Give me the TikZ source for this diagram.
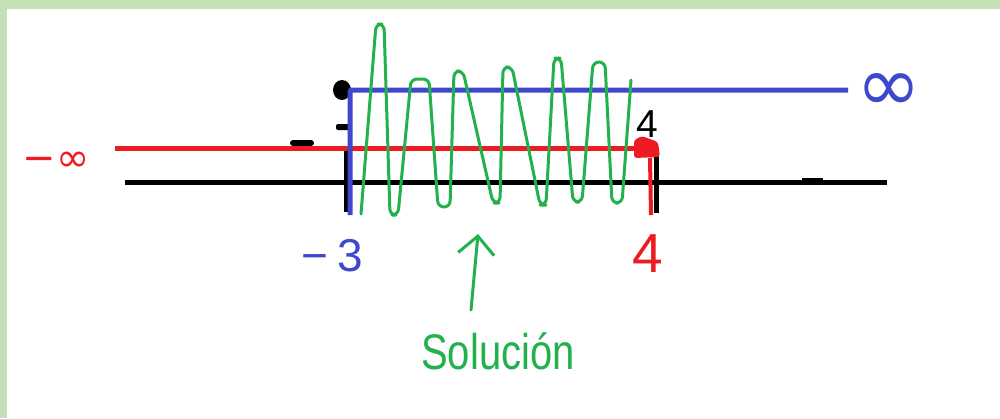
\documentclass[tikz,border=0pt]{standalone}
\usepackage{fontspec}
\usepackage{graphicx}
\setmainfont{Liberation Sans}
\newfontfamily\symfont{DejaVu Sans}
\usetikzlibrary{arrows.meta}
\definecolor{pred}{HTML}{ED1C24}
\definecolor{pblue}{HTML}{3F48CC}
\definecolor{pgreen}{HTML}{22B14C}
\definecolor{frame}{HTML}{C5E0B4}
\tikzset{
  axisline/.style={line width=5pt, black},
  tickline/.style={line width=5pt, black},
  redline/.style={line width=5pt, pred},
  blueline/.style={line width=5pt, pblue, rounded corners=2pt},
  zig/.style={line width=3pt, pgreen, rounded corners=6pt, line join=round, line cap=round},
  solarrow/.style={line width=3pt, pgreen, line cap=round, -{Straight Barb[length=18pt,width=36pt,line width=3pt]}},
  lbl/.style={inner sep=0pt, outer sep=0pt},
  blackmark/.style={fill=black}
}
\begin{document}
\begin{tikzpicture}[x=1pt,y=-1pt]
\path[use as bounding box, fill=white] (0,0) rectangle (1000,418);
\fill[frame] (0,0) rectangle (1000,8.5);
\fill[frame] (0,0) rectangle (7,418);

% coordinates
\coordinate (axL) at (125,182);
\coordinate (axR) at (887,182);
\coordinate (tA1) at (346,148);
\coordinate (tA2) at (346,212);
\coordinate (tB1) at (656,152);
\coordinate (tB2) at (656,213);
\coordinate (rL) at (115,148);
\coordinate (rR) at (640,148);
\coordinate (rD1) at (650,158);
\coordinate (rD2) at (651,215);
\coordinate (b0) at (350,215);
\coordinate (bC) at (350,90);
\coordinate (bE) at (848,90);
\coordinate (arrbase) at (471,310);
\coordinate (arrtip) at (478,234);

% labels
\node[lbl, text=pred, font=\symfont\fontsize{40}{40}\selectfont] (minf) at (56,162) {−∞};
\node[lbl, text=pblue, font=\symfont\fontsize{78}{78}\selectfont] (inf) at (889,93) {∞};
\node[lbl, text=black, font=\fontsize{39}{39}\selectfont, anchor=base] (lbl4k) at (647,137) {4};
\node[lbl, text=pred, font=\fontsize{55}{55}\selectfont, anchor=base] (lbl4r) at (648,272) {4};
\node[lbl, text=pblue, font=\fontsize{46}{46}\selectfont, anchor=base] (lbl3) at (332,271) {−\hspace{9pt}3};
\node[lbl, text=pgreen, font=\fontsize{50}{50}\selectfont, anchor=base] (sol) at (498,369) {\scalebox{0.8}[1]{Solución}};

% axis and ticks
\draw[axisline] (axL) -- (axR);
\draw[line width=6pt] (802,180.5) -- (823,180.5);
\draw[tickline] (tA1) -- (tA2);
\draw[tickline] (tB1) -- (tB2);

% small black marks
\fill[blackmark] (342,90) ellipse (9pt and 10pt);
\fill[blackmark, rounded corners=2pt] (336,124) rectangle (352,130);
\fill[blackmark, rounded corners=3pt] (290,146) rectangle (314,140);

% red interval
\draw[redline] (rL) -- (rR);
\fill[pred, rounded corners=3pt] (634,140) -- (642,136) -- (658,142) -- (660,157) -- (634,158) -- cycle;
\draw[line width=4pt, pred] (rD1) -- (rD2);

% blue interval
\draw[blueline] (b0) -- (bC) -- (bE);

% green hatching
\draw[zig] (361,214) -- (376,24) -- (384,24) -- (390,215) -- (398,215)
  -- (411,79) -- (429,79) -- (438,207) -- (450,207)
  -- (454,71) -- (463,71) -- (493,203) -- (500,203)
  -- (503,67) -- (512,67) -- (540,205) -- (546,205)
  -- (554,58) -- (561,58) -- (573,202) -- (582,202)
  -- (593,62) -- (605,62) -- (612,203) -- (622,203) -- (631,80);

% arrow
\draw[solarrow] (arrbase) -- (arrtip);
\end{tikzpicture}
\end{document}
